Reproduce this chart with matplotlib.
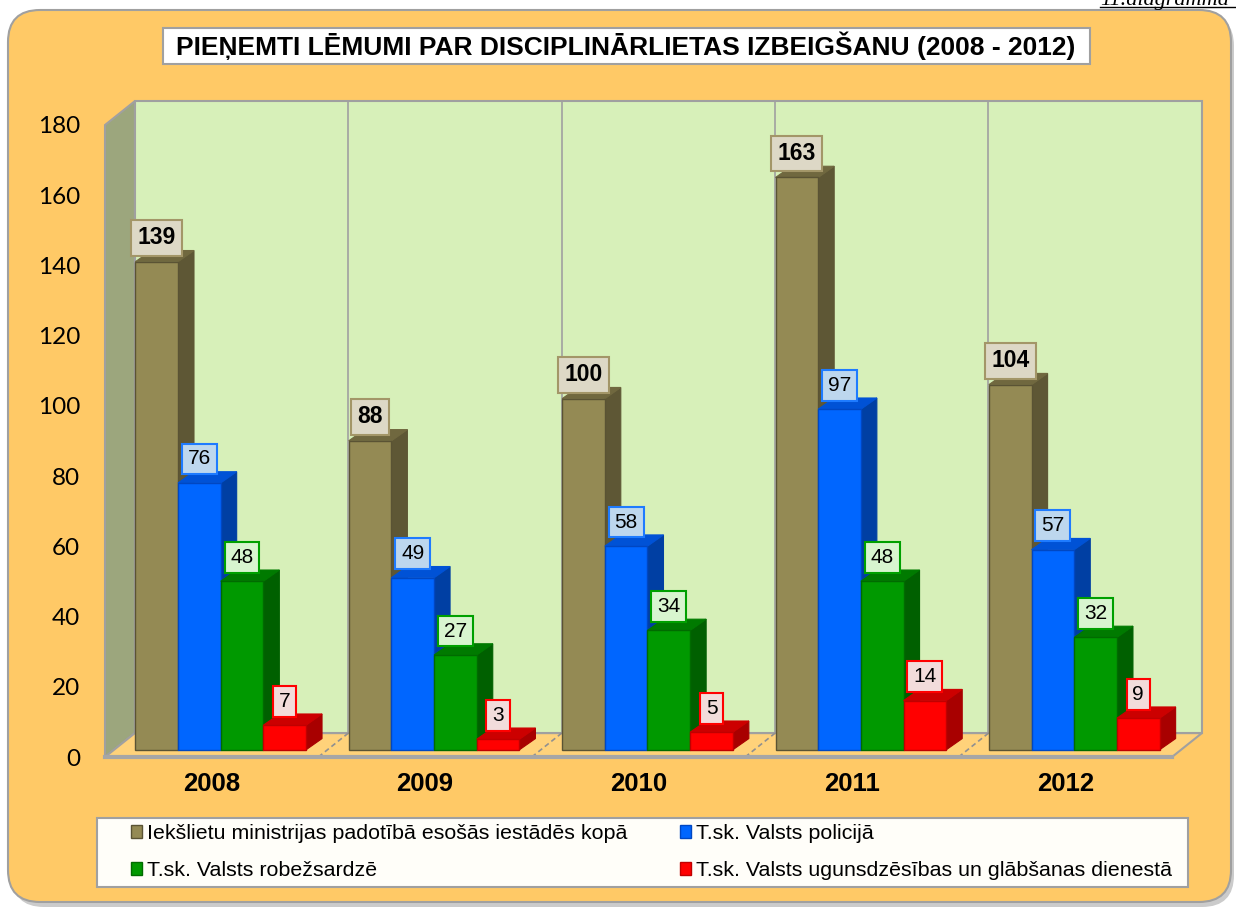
import numpy as np
import matplotlib.pyplot as plt
from matplotlib.patches import Polygon, Patch, FancyBboxPatch, Rectangle

# --- data ---
years = ["2008", "2009", "2010", "2011", "2012"]
series_names = [
    "Iekšlietu ministrijas padotībā esošās iestādēs kopā",
    "T.sk. Valsts policijā",
    "T.sk. Valsts robežsardzē",
    "T.sk. Valsts ugunsdzēsības un glābšanas dienestā",
]
total = [139, 88, 100, 163, 104]
police = [76, 49, 58, 97, 57]
border = [48, 27, 34, 48, 32]
fire = [7, 3, 5, 14, 9]
yticks = list(range(0, 181, 20))

title = "PIEŅEMTI LĒMUMI PAR DISCIPLINĀRLIETAS IZBEIGŠANU (2008 - 2012)"

# --- styles: front, top, side, edge, label face, label edge ---
styles = [
    ("#948A54", "#70683F", "#5E5735", "#5A5334", "#DDD8C6", "#A39668"),
    ("#0066FF", "#0052D6", "#003FA3", "#0047C2", "#BDD7EE", "#1E7BFF"),
    ("#009900", "#007A00", "#006000", "#006B00", "#D8F5CF", "#00A000"),
    ("#FF0000", "#CC0000", "#A80000", "#C00000", "#F2DCDB", "#FF0000"),
]
values = [total, police, border, fire]

W, H = 1236, 907
fig = plt.figure(figsize=(W / 100, H / 100), dpi=100)
fig.patch.set_facecolor("white")

# background decorations in pixel coordinates
bg = fig.add_axes([0, 0, 1, 1])
bg.set_xlim(0, W)
bg.set_ylim(H, 0)
bg.axis("off")
bg.add_patch(FancyBboxPatch((12, 14), W - 14, H - 14,
                            boxstyle="round,pad=0,rounding_size=32",
                            fc="#8C8C8C", ec="none", alpha=0.45))
bg.add_patch(FancyBboxPatch((8, 10), W - 13, H - 15,
                            boxstyle="round,pad=0,rounding_size=32",
                            fc="#FFC966", ec="#A0A0A0", lw=1.5))
bg.add_patch(Rectangle((163, 28), 927, 36, fc="white", ec="#A0A0A0", lw=1.5))
bg.text(626, 46, title, ha="center", va="center", fontsize=19,
        fontweight="bold", family="Liberation Sans")
bg.add_patch(Rectangle((97, 818), 1091, 69, fc="#FFFEF9", ec="#A0A0A0", lw=1.5))
# page caption, cut at the top edge as in the source page
bg.text(1100, 0, "11.diagramma", ha="left", va="center", fontsize=16,
        fontstyle="italic", family="Liberation Serif")
bg.plot([1100, 1236], [7, 7], color="black", lw=1)

# --- main axes ---
ax = fig.add_axes([105 / W, (H - 757) / H, 1067 / W, 632 / H])
ax.set_xlim(-0.5, 4.5)
ax.set_ylim(0, 180)
ax.patch.set_visible(False)
for s in ax.spines.values():
    s.set_visible(False)

DX, DY = 0.14, 6.8          # full depth of the 3D box
F0X, F0Y = 0.042, 2.05      # bar front plane offset
BDX, BDY = 0.075, 3.2       # bar depth
bw = 0.2
offs = [-0.3, -0.1, 0.1, 0.3]
n = len(years)
xl, xr = -0.5, n - 0.5

# walls and floor
ax.add_patch(Polygon([(xl + DX, DY), (xr + DX, DY), (xr + DX, 180 + DY), (xl + DX, 180 + DY)],
                     closed=True, fc="#D7F0B9", ec="#A0A0A0", lw=1.5, clip_on=False, zorder=1))
ax.add_patch(Polygon([(xl, 0), (xl, 180), (xl + DX, 180 + DY), (xl + DX, DY)],
                     closed=True, fc="#9CA67D", ec="#A0A0A0", lw=1.5, clip_on=False, zorder=1))
ax.add_patch(Polygon([(xl, 0), (xr, 0), (xr + DX, DY), (xl + DX, DY)],
                     closed=True, fc="#FFD27A", ec="#A0A0A0", lw=1.5, clip_on=False, zorder=1))
ax.plot([xl, xr], [0, 0], color="#A6A6A6", lw=3, clip_on=False, zorder=1.5)
for b in np.arange(0.5, n - 0.5, 1.0):
    ax.plot([b + DX, b + DX], [DY, 180 + DY], color="#A0A0A0", lw=1.2, clip_on=False, zorder=1.2)
    ax.plot([b, b + DX], [0, DY], color="#909090", lw=1.2, ls=(0, (3, 2)), clip_on=False, zorder=1.2)

# bars
x = np.arange(n)
for j, (vals, st) in enumerate(zip(values, styles)):
    front, topc, side, edge, lfc, lec = st
    z = 3 + j * 0.1
    xc = x + offs[j] + F0X
    ax.bar(xc, vals, width=bw, bottom=F0Y, color=front, edgecolor=edge, lw=1,
           zorder=z, clip_on=False)
    for cx, v in zip(xc, vals):
        x0, x1 = cx - bw / 2, cx + bw / 2
        t = F0Y + v
        ax.add_patch(Polygon([(x1, F0Y), (x1 + BDX, F0Y + BDY), (x1 + BDX, t + BDY), (x1, t)],
                             closed=True, fc=side, ec=side, lw=0.8, zorder=z - 0.01, clip_on=False))
        ax.add_patch(Polygon([(x0, t), (x1, t), (x1 + BDX, t + BDY), (x0 + BDX, t + BDY)],
                             closed=True, fc=topc, ec=topc, lw=0.8, zorder=z - 0.01, clip_on=False))

# data labels
for j, (vals, st) in enumerate(zip(values, styles)):
    lfc, lec = st[4], st[5]
    for i, v in enumerate(vals):
        cx = i + offs[j] + F0X
        ax.annotate(str(v), (cx, F0Y + v), xytext=(0, 24), textcoords="offset pixels",
                    ha="center", va="center", fontsize=16.5 if j == 0 else 15,
                    fontweight="bold" if j == 0 else "normal", family="Liberation Sans",
                    bbox=dict(boxstyle="square,pad=0.28", fc=lfc, ec=lec, lw=1.5),
                    zorder=10, annotation_clip=False)

ax.set_yticks(yticks)
ax.set_yticklabels([str(t) for t in yticks], fontsize=17.5, family="Lato")
ax.set_xticks(x)
ax.set_xticklabels(years, fontsize=18.5, fontweight="bold", family="Liberation Sans")
ax.tick_params(axis="y", length=0, pad=18)
ax.tick_params(axis="x", length=0, pad=11)

handles = [Patch(fc=st[0], ec=st[3], lw=1) for st in styles]
order = [0, 2, 1, 3]
fig.legend([handles[k] for k in order], [series_names[k] for k in order], ncol=2,
           loc="center left", bbox_to_anchor=(120 / W, (H - 852) / H), frameon=False,
           prop={"family": "Liberation Sans", "size": 15.4},
           handlelength=0.55, handleheight=0.55, handletextpad=0.2,
           columnspacing=2.45, labelspacing=0.85, borderpad=0)

fig.savefig("out.png", dpi=100)
